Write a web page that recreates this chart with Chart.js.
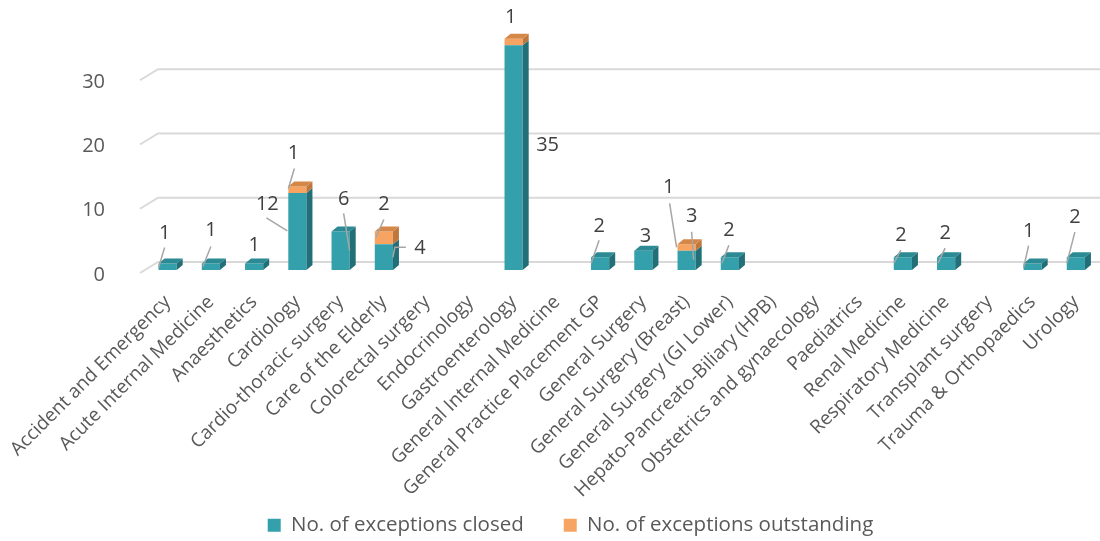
<!DOCTYPE html>
<html>
<head>
<meta charset="utf-8">
<script src="https://cdn.jsdelivr.net/npm/chart.js@4/dist/chart.umd.min.js"></script>
<style>
  html, body { margin: 0; padding: 0; background: #fff; }
</style>
</head>
<body>
<canvas id="chart" width="1100" height="541"></canvas>
<script>
const departments = [
  'Accident and Emergency', 'Acute Internal Medicine', 'Anaesthetics', 'Cardiology',
  'Cardio-thoracic surgery', 'Care of the Elderly', 'Colorectal surgery', 'Endocrinology',
  'Gastroenterology', 'General Internal Medicine', 'General Practice Placement GP',
  'General Surgery', 'General Surgery (Breast)', 'General Surgery (GI Lower)',
  'Hepato-Pancreato-Biliary (HPB)', 'Obstetrics and gynaecology', 'Paediatrics',
  'Renal Medicine', 'Respiratory Medicine', 'Transplant surgery',
  'Trauma & Orthopaedics', 'Urology'
];
const closedCounts      = [1, 1, 1, 12, 6, 4, 0, 0, 35, 0, 2, 3, 3, 2, 0, 0, 0, 2, 2, 0, 1, 2];
const outstandingCounts = [0, 0, 0, 1, 0, 2, 0, 0, 1, 0, 0, 0, 1, 0, 0, 0, 0, 0, 0, 0, 0, 0];
const yTicks = [0, 10, 20, 30];

// value label placement, relative to the top centre of each bar (px), with optional leader line
const closedLabelAt = [
  { x: -3, y: -30, line: [[-3, -16], [-9, 4]] },
  { x: 0, y: -33, line: [[0, -17], [-8, 3]] },
  { x: 0, y: -18 },
  { x: -30, y: 11, line: [[-31, 25], [-10, 38]] },
  { x: 3, y: -32, line: [[3, -18], [9, 19]] },
  { x: 36, y: 4, line: [[22, 3], [11, 3], [9, 13]] },
  null, null,
  { x: 34, y: 100 },
  null,
  { x: -1, y: -31, line: [[-1, -17], [-9, 6]] },
  { x: 2, y: -14 },
  { x: 5, y: -34, line: [[5, -19], [7, 9]] },
  { x: -1, y: -27, line: [[-1, -12], [-8, 6]] },
  null, null, null,
  { x: -2, y: -22, line: [[-2, -7], [-9, 6]] },
  { x: -1, y: -24, line: [[-1, -9], [-8, 6]] },
  null,
  { x: -4, y: -32, line: [[-4, -18], [-9, 4]] },
  { x: -1, y: -40, line: [[-1, -25], [-9, 6]] }
];
const outstandingLabelAt = [];
outstandingLabelAt[3] = { x: -4, y: -33, line: [[-3, -18], [-9, 2]] };
outstandingLabelAt[5] = { x: 0, y: -27, line: [[0, -12], [-8, 6]] };
outstandingLabelAt[8] = { x: -3, y: -21 };
outstandingLabelAt[12] = { x: -18, y: -57, line: [[-17, -41], [-10, 3]] };

const FRONT = ['#34a0ab', '#f7a462'];
const SIDE = ['#236f77', '#bf773d'];
const TOP = ['#2b8a93', '#d48747'];
const DEPTH_X = 6, DEPTH_Y = -5;   // bar depth
const BAR_SHIFT = -5;              // bars sit a little behind the front plane
const PLOT_BOTTOM = 275;
const labelSpecs = [closedLabelAt, outstandingLabelAt];

const bars3d = {
  id: 'bars3d',
  afterLayout(chart) {
    // let the long rotated category names run down into the legend strip
    chart.scales.x.bottom = chart.height;
  },
  beforeDatasetsDraw(chart) {
    const ctx = chart.ctx, y = chart.scales.y;
    // back-wall gridlines with their little floor diagonals
    ctx.save();
    ctx.strokeStyle = '#d9d9d9';
    ctx.lineWidth = 2;
    yTicks.forEach(v => {
      const p = y.getPixelForValue(v);
      ctx.beginPath();
      ctx.moveTo(140, p - 2);
      ctx.lineTo(158, p - 13);
      ctx.lineTo(chart.width, p - 13);
      ctx.stroke();
    });
    ctx.restore();
    ctx.save();
    ctx.translate(0, BAR_SHIFT);
  },
  afterDatasetsDraw(chart) {
    const ctx = chart.ctx;
    const metas = [chart.getDatasetMeta(0), chart.getDatasetMeta(1)];
    const sets = chart.data.datasets;
    departments.forEach((_, i) => {
      let topIdx = -1;
      sets.forEach((ds, d) => { if (ds.data[i] > 0) topIdx = d; });
      sets.forEach((ds, d) => {
        if (!(ds.data[i] > 0)) return;
        const el = metas[d].data[i];
        const l = el.x - el.width / 2, r = el.x + el.width / 2;
        const t = el.y, b = el.base;
        ctx.fillStyle = SIDE[d];
        ctx.beginPath();
        ctx.moveTo(r, t); ctx.lineTo(r + DEPTH_X, t + DEPTH_Y);
        ctx.lineTo(r + DEPTH_X, b + DEPTH_Y); ctx.lineTo(r, b);
        ctx.closePath(); ctx.fill();
        if (d === topIdx) {
          ctx.fillStyle = TOP[d];
          ctx.beginPath();
          ctx.moveTo(l, t); ctx.lineTo(l + DEPTH_X, t + DEPTH_Y);
          ctx.lineTo(r + DEPTH_X, t + DEPTH_Y); ctx.lineTo(r, t);
          ctx.closePath(); ctx.fill();
        }
      });
    });
    ctx.restore();

    // value labels and leader lines
    ctx.save();
    ctx.font = '20px "Open Sans"';
    ctx.textAlign = 'center';
    ctx.textBaseline = 'middle';
    sets.forEach((ds, d) => {
      ds.data.forEach((v, i) => {
        const spec = labelSpecs[d][i];
        if (!(v > 0) || !spec) return;
        const el = metas[d].data[i];
        const bx = el.x, by = el.y + BAR_SHIFT;
        if (spec.line) {
          ctx.strokeStyle = '#a6a6a6';
          ctx.lineWidth = 1.5;
          ctx.beginPath();
          spec.line.forEach((pt, k) => {
            if (k === 0) ctx.moveTo(bx + pt[0], by + pt[1]);
            else ctx.lineTo(bx + pt[0], by + pt[1]);
          });
          ctx.stroke();
        }
        ctx.fillStyle = '#404040';
        ctx.fillText(String(v), bx + spec.x, by + spec.y);
      });
    });
    ctx.restore();
  }
};

new Chart(document.getElementById('chart'), {
  type: 'bar',
  data: {
    labels: departments,
    datasets: [
      { label: 'No. of exceptions closed', data: closedCounts, backgroundColor: FRONT[0] },
      { label: 'No. of exceptions outstanding', data: outstandingCounts, backgroundColor: FRONT[1] }
    ]
  },
  options: {
    responsive: false,
    animation: false,
    layout: { padding: { top: 18, left: 42, right: 1, bottom: 0 } },
    datasets: { bar: { categoryPercentage: 1, barPercentage: 0.42 } },
    plugins: {
      tooltip: { enabled: false },
      legend: {
        position: 'bottom',
        maxHeight: 66,
        labels: {
          font: { family: 'Open Sans', size: 20.5 },
          color: '#595959',
          boxWidth: 13,
          boxHeight: 13,
          padding: 40
        }
      }
    },
    scales: {
      x: {
        stacked: true,
        grid: { display: false },
        border: { display: false },
        ticks: {
          autoSkip: false,
          minRotation: 45,
          maxRotation: 45,
          padding: 8,
          font: { family: 'Open Sans', size: 19 },
          color: '#595959'
        },
        afterFit(s) {
          const legendH = s.chart.legend ? s.chart.legend.height : 0;
          s.height = s.chart.height - PLOT_BOTTOM - legendH;
        }
      },
      y: {
        stacked: true,
        min: 0,
        max: 40,
        grid: { display: false, drawTicks: false },
        border: { display: false },
        ticks: {
          stepSize: 10,
          padding: 41,
          font: { family: 'Open Sans', size: 20 },
          color: '#595959',
          callback: v => (v === 40 ? '' : v)
        },
        afterFit(s) {
          s.width = 104;
          // the label gap should not push the plot down
          s.paddingTop = 12;
          s.paddingBottom = 12;
        }
      }
    }
  },
  plugins: [bars3d]
});
</script>
</body>
</html>
